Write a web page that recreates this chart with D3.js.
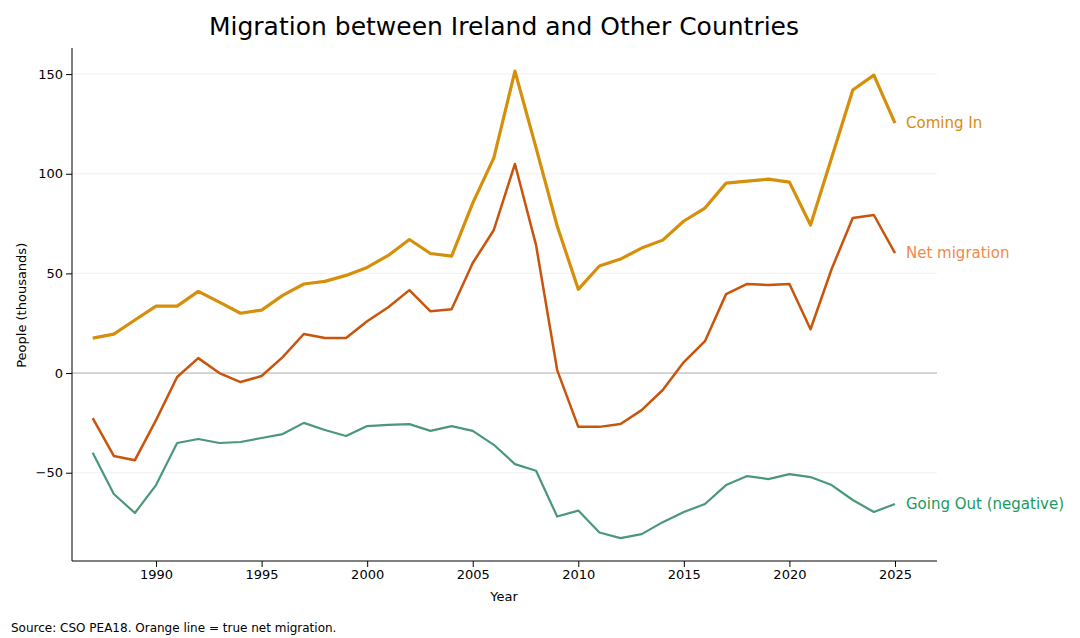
<!DOCTYPE html>
<html><head><meta charset="utf-8">
<script src="https://cdn.jsdelivr.net/npm/d3@7"></script>
<style>body{margin:0;background:#fff;font-family:"DejaVu Sans",sans-serif;}</style>
</head><body><div id="container"></div>
<script>
const years = d3.range(1987, 2026);
const comingIn = [17.5,19.5,26.6,33.6,33.6,41,35.6,30,31.6,39,44.7,46,49,53,59,67,60,58.7,85.3,108,151.5,113,73.8,42,53.7,57.2,62.7,66.7,76.3,82.8,95.3,96.3,97.3,95.8,74.3,108,142,149.5,125.4];
const net = [-22.6,-41.6,-43.7,-23.6,-2,7.5,0,-4.5,-1.5,8,19.6,17.6,17.6,26,33,41.6,31,32,55.2,71.8,104.9,64.2,1.5,-27,-27,-25.6,-18.6,-8.5,5.5,16,39.6,44.7,44.2,44.7,22,52.2,77.8,79.3,60.2];
const goingOut = [-40,-60.7,-70.2,-56.2,-35.1,-33.1,-35.1,-34.6,-32.6,-30.6,-25,-28.6,-31.6,-26.6,-26,-25.6,-29,-26.6,-29,-36,-45.7,-49,-72,-69,-80,-82.8,-80.8,-74.8,-69.7,-65.7,-56.2,-51.7,-53.2,-50.7,-52.2,-56.2,-63.7,-69.7,-65.7];

const W = 1080, H = 638, m = {l:72, r:143, t:48, b:77};
const svg = d3.select("#container").append("svg").attr("width", W).attr("height", H);
const x = d3.scaleLinear().domain([1986.02, 2026.99]).range([m.l, W - m.r]);
const y = d3.scaleLinear().domain([-94.3, 163.1]).range([H - m.b, m.t]);

// grid
svg.append("g").selectAll("line").data([-50,50,100,150]).join("line")
  .attr("x1", m.l).attr("x2", W - m.r).attr("y1", d => y(d)).attr("y2", d => y(d))
  .attr("stroke", "#eee").attr("stroke-width", 0.8);
svg.append("line").attr("x1", m.l).attr("x2", W - m.r).attr("y1", y(0)).attr("y2", y(0))
  .attr("stroke", "#aaa").attr("stroke-width", 1);

const xa = svg.append("g").attr("transform", `translate(0,${H - m.b})`)
  .call(d3.axisBottom(x).tickValues(d3.range(1990, 2026, 5)).tickFormat(d3.format("d")).tickSizeOuter(0));
xa.select(".domain").attr("d", `M${m.l},0H${W - m.r}`);
const ya = svg.append("g").attr("transform", `translate(${m.l},0)`)
  .call(d3.axisLeft(y).tickValues([-50,0,50,100,150]).tickSizeOuter(0));
ya.select(".domain").attr("d", `M0,${H - m.b}V${m.t}`);
svg.selectAll(".tick text").attr("font-size", 13).attr("font-family", "DejaVu Sans");

const line = d3.line().x((d, i) => x(years[i])).y(d => y(d));
const series = [
  {v: goingOut, c: "#4a9878", w: 2.2, label: "Going Out (negative)", lc: "#1a9a60"},
  {v: net, c: "#c9540c", w: 2.5, label: "Net migration", lc: "#f08a4b"},
  {v: comingIn, c: "#d68f0a", w: 3.2, label: "Coming In", lc: "#d98c0a"}
];
series.forEach(s => {
  svg.append("path").datum(s.v).attr("d", line).attr("fill", "none")
    .attr("stroke", s.c).attr("stroke-width", s.w).attr("stroke-linejoin", "round");
  svg.append("text").attr("x", x(2025) + 11).attr("y", y(s.v[s.v.length - 1])).attr("dy", "0.35em")
    .attr("fill", s.lc).attr("font-size", 15).text(s.label);
});

svg.append("text").attr("x", 504).attr("y", 35).attr("text-anchor", "middle")
  .attr("font-size", 25).text("Migration between Ireland and Other Countries");
svg.append("text").attr("x", 504).attr("y", 601).attr("text-anchor", "middle")
  .attr("font-size", 13).text("Year");
svg.append("text").attr("transform", `translate(26,${y(34)}) rotate(-90)`).attr("text-anchor", "middle")
  .attr("font-size", 13).text("People (thousands)");
svg.append("text").attr("x", 11).attr("y", 632).attr("font-size", 12)
  .text("Source: CSO PEA18. Orange line = true net migration.");
</script></body></html>
